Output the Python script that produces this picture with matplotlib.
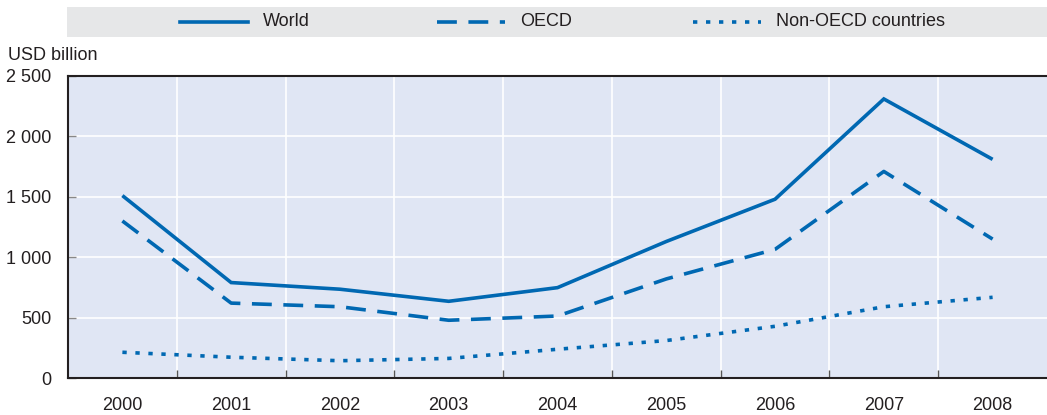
import matplotlib
matplotlib.use("Agg")
import matplotlib.pyplot as plt
from matplotlib.lines import Line2D
from matplotlib.ticker import FuncFormatter, FixedLocator

plt.rcParams['font.family'] = ['Liberation Sans Narrow', 'Liberation Sans', 'DejaVu Sans']

years = ["2000", "2001", "2002", "2003", "2004", "2005", "2006", "2007", "2008"]
world = [1510, 790, 735, 635, 748, 1130, 1480, 2310, 1810]
oecd = [1300, 620, 590, 478, 513, 820, 1065, 1710, 1150]
non_oecd = [213, 172, 143, 162, 238, 310, 428, 590, 668]
series_names = ["World", "OECD", "Non-OECD countries"]

blue = "#0068B2"
bg = "#E0E6F4"
text_c = "#231F20"

fig = plt.figure(figsize=(10.47, 4.15), dpi=100)
ax = fig.add_axes([68/1047, 1-378/415, (1047-68)/1047, (378-76)/415])
ax.set_facecolor(bg)

x = list(range(len(years)))
ax.plot(x, world, color=blue, lw=2.6, solid_capstyle='butt', solid_joinstyle='miter')
ax.plot(x, oecd, color=blue, lw=2.6, dashes=(5.5, 3.2))
ax.plot(x, non_oecd, color=blue, lw=2.6, dashes=(1.2, 2.4))

ax.set_xlim(-0.5, len(years) - 0.5)
ax.set_ylim(0, 2500)
ax.set_xticks(x)
ax.set_xticklabels(years)
ax.xaxis.set_minor_locator(FixedLocator([i + 0.5 for i in range(len(years) - 1)]))
ax.set_yticks([0, 500, 1000, 1500, 2000, 2500])
ax.yaxis.set_major_formatter(FuncFormatter(lambda v, p: f"{int(v):,}".replace(",", " ")))

ax.grid(False)
for i in range(len(years) - 1):
    ax.axvline(i + 0.5, color="white", lw=1.2, zorder=0.5)
for v in [500, 1000, 1500, 2000]:
    ax.axhline(v, color="white", lw=1.2, zorder=0.5)

for s in ['left', 'bottom', 'top']:
    ax.spines[s].set_color(text_c)
    ax.spines[s].set_linewidth(1.5)
ax.spines['right'].set_visible(False)

ax.tick_params(axis='x', which='major', length=0, pad=14, labelsize=13, colors=text_c)
ax.tick_params(axis='x', which='minor', direction='in', length=6, width=1, color="#555555")
ax.tick_params(axis='y', which='major', direction='in', length=6, width=1, color="#888888",
               labelsize=13, labelcolor=text_c, pad=12)

fig.text(8/1047, 1-55/415, "USD billion", fontsize=13, color=text_c, va='center', ha='left')

# legend box
lax = fig.add_axes([67/1047, 1-37/415, (1047-67)/1047, 30/415])
lax.set_xlim(0, 1047 - 67)
lax.set_ylim(0, 1)
lax.set_facecolor("#E6E7E8")
for s in lax.spines.values():
    s.set_visible(False)
lax.set_xticks([])
lax.set_yticks([])
styles = [dict(), dict(dashes=(5.5, 3.2)), dict(dashes=(1.2, 2.4))]
starts = [180 - 67, 437 - 67, 693 - 67]
for name, st, sx in zip(series_names, styles, starts):
    lax.add_line(Line2D([sx, sx + 68], [0.5, 0.5], color=blue, lw=2.6, **st))
    lax.text(sx + 83, 0.5, name, fontsize=13, color=text_c, va='center', ha='left')

fig.savefig("out.png", dpi=100)
